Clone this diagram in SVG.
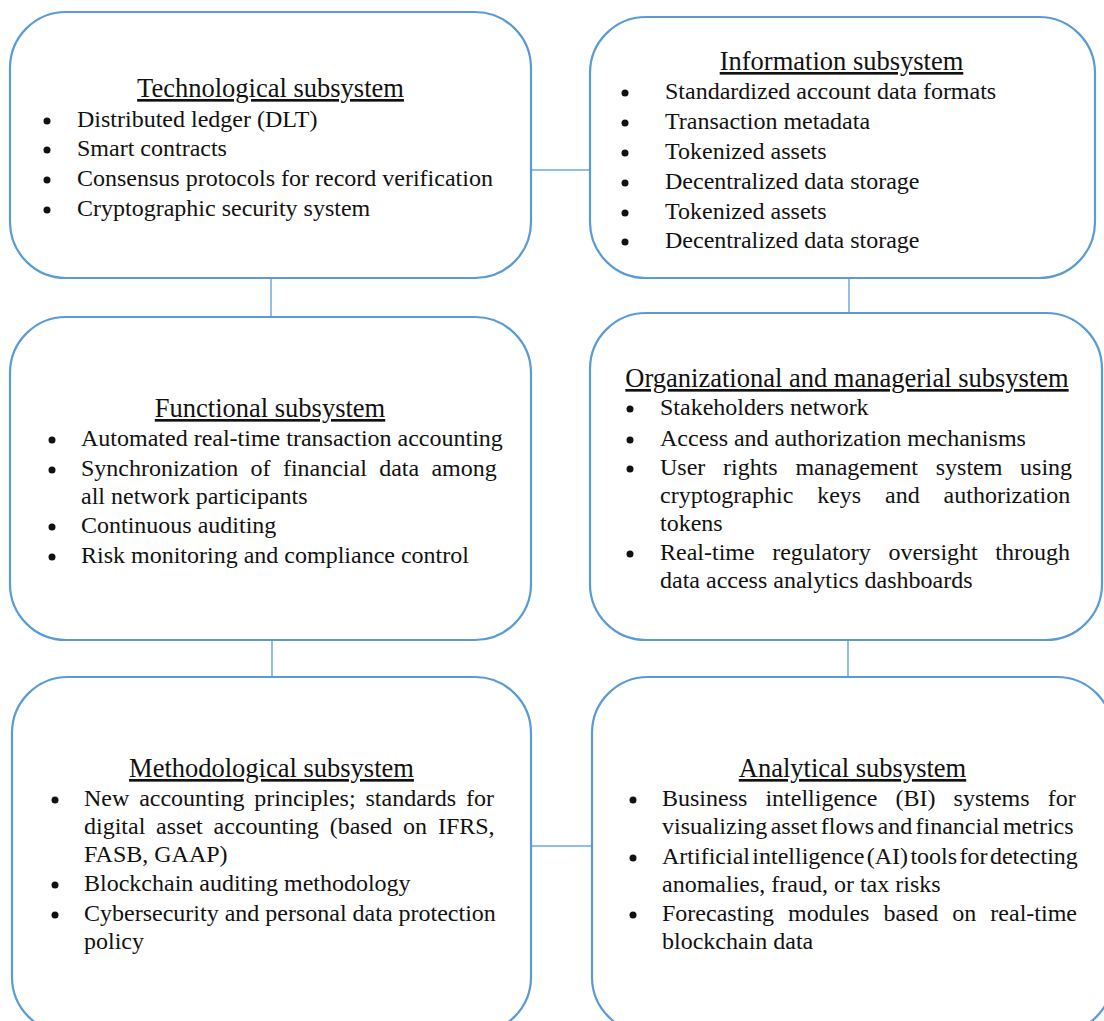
<svg xmlns="http://www.w3.org/2000/svg" width="1104" height="1021" viewBox="0 0 1104 1021">
<style>
.box{fill:#fff;stroke:#5B9BD5;stroke-width:2.2}
.con{stroke:#6FA8DC;stroke-width:1.5;fill:none}
.t{font-family:"Liberation Serif","Times New Roman",serif;font-size:26.5px;fill:#111;text-anchor:middle;text-decoration:underline}
.i{font-family:"Liberation Serif","Times New Roman",serif;font-size:24px;fill:#111}
.b{fill:#111}
</style>
<rect width="1104" height="1021" fill="#fff"/>
<g id="connectors">
<line class="con" x1="531" y1="170" x2="590" y2="170"/>
<line class="con" x1="271" y1="278" x2="271" y2="317"/>
<line class="con" x1="849" y1="278" x2="849" y2="313"/>
<line class="con" x1="272" y1="640" x2="272" y2="677"/>
<line class="con" x1="848" y1="640" x2="848" y2="677"/>
<line class="con" x1="531" y1="846" x2="592" y2="846"/>
</g>
<g id="technological">
<rect class="box" x="10" y="12" width="521" height="266" rx="56"/>
<text class="t" x="270.5" y="97">Technological subsystem</text>
<circle class="b" cx="47" cy="121" r="3.5"/><text class="i" x="77" y="127">Distributed ledger (DLT)</text>
<circle class="b" cx="47" cy="150" r="3.5"/><text class="i" x="77" y="156">Smart contracts</text>
<circle class="b" cx="47" cy="180" r="3.5"/><text class="i" x="77" y="186">Consensus protocols for record verification</text>
<circle class="b" cx="47" cy="210" r="3.5"/><text class="i" x="77" y="216">Cryptographic security system</text>
</g>
<g id="information">
<rect class="box" x="590" y="17" width="505" height="261" rx="56"/>
<text class="t" x="841.5" y="70">Information subsystem</text>
<circle class="b" cx="625" cy="93" r="3.5"/><text class="i" x="665" y="99">Standardized account data formats</text>
<circle class="b" cx="625" cy="123" r="3.5"/><text class="i" x="665" y="129">Transaction metadata</text>
<circle class="b" cx="625" cy="153" r="3.5"/><text class="i" x="665" y="159">Tokenized assets</text>
<circle class="b" cx="625" cy="183" r="3.5"/><text class="i" x="665" y="189">Decentralized data storage</text>
<circle class="b" cx="625" cy="213" r="3.5"/><text class="i" x="665" y="219">Tokenized assets</text>
<circle class="b" cx="625" cy="242" r="3.5"/><text class="i" x="665" y="248">Decentralized data storage</text>
</g>
<g id="functional">
<rect class="box" x="10" y="317" width="521" height="323" rx="56"/>
<text class="t" x="270" y="417">Functional subsystem</text>
<circle class="b" cx="52" cy="440" r="3.5"/><text class="i" x="81" y="446">Automated real-time transaction accounting</text>
<circle class="b" cx="52" cy="470" r="3.5"/><text class="i" x="81" y="476" word-spacing="6.3">Synchronization of financial data among</text>
<text class="i" x="81" y="504">all network participants</text>
<circle class="b" cx="52" cy="527" r="3.5"/><text class="i" x="81" y="533">Continuous auditing</text>
<circle class="b" cx="52" cy="557" r="3.5"/><text class="i" x="81" y="563">Risk monitoring and compliance control</text>
</g>
<g id="organizational">
<rect class="box" x="590" y="313" width="512" height="327" rx="56"/>
<text class="t" x="847" y="387">Organizational and managerial subsystem</text>
<circle class="b" cx="630" cy="409" r="3.5"/><text class="i" x="660" y="415">Stakeholders network</text>
<circle class="b" cx="630" cy="440" r="3.5"/><text class="i" x="660" y="446">Access and authorization mechanisms</text>
<circle class="b" cx="630" cy="469" r="3.5"/><text class="i" x="660" y="475" word-spacing="11.7">User rights management system using</text>
<text class="i" x="660" y="503" word-spacing="17.9">cryptographic keys and authorization</text>
<text class="i" x="660" y="531">tokens</text>
<circle class="b" cx="630" cy="554" r="3.5"/><text class="i" x="660" y="560" word-spacing="11.6">Real-time regulatory oversight through</text>
<text class="i" x="660" y="588">data access analytics dashboards</text>
</g>
<g id="methodological">
<rect class="box" x="12" y="677" width="519" height="356" rx="56"/>
<text class="t" x="271.5" y="777">Methodological subsystem</text>
<circle class="b" cx="55" cy="800" r="3.5"/><text class="i" x="84" y="806" word-spacing="3.85">New accounting principles; standards for</text>
<text class="i" x="84" y="834" word-spacing="4.8">digital asset accounting (based on IFRS,</text>
<text class="i" x="84" y="862">FASB, GAAP)</text>
<circle class="b" cx="55" cy="885" r="3.5"/><text class="i" x="84" y="891">Blockchain auditing methodology</text>
<circle class="b" cx="55" cy="915" r="3.5"/><text class="i" x="84" y="921">Cybersecurity and personal data protection</text>
<text class="i" x="84" y="949">policy</text>
</g>
<g id="analytical">
<rect class="box" x="592" y="677" width="521" height="356" rx="56"/>
<text class="t" x="852.5" y="777">Analytical subsystem</text>
<circle class="b" cx="633" cy="800" r="3.5"/><text class="i" x="662" y="806" word-spacing="12.1">Business intelligence (BI) systems for</text>
<text class="i" x="662" y="834" word-spacing="-2.6">visualizing asset flows and financial metrics</text>
<circle class="b" cx="633" cy="858" r="3.5"/><text class="i" x="662" y="864" word-spacing="-3.6">Artificial intelligence (AI) tools for detecting</text>
<text class="i" x="662" y="892">anomalies, fraud, or tax risks</text>
<circle class="b" cx="633" cy="915" r="3.5"/><text class="i" x="662" y="921" word-spacing="8.1">Forecasting modules based on real-time</text>
<text class="i" x="662" y="949">blockchain data</text>
</g>
</svg>
